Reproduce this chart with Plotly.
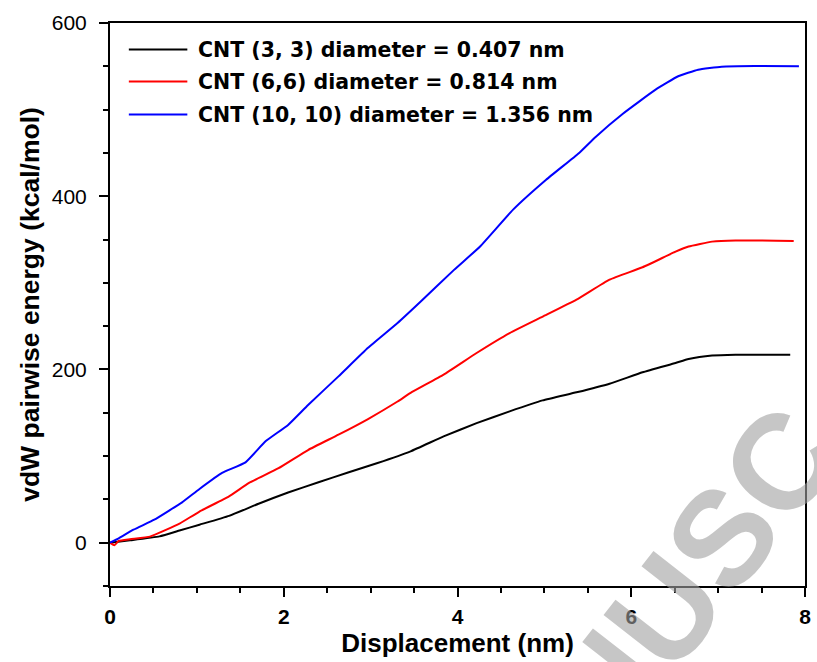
import plotly.graph_objects as go

# ---- data ----
x_33 = [0, 0.23, 0.57, 0.8, 1.03, 1.37, 1.71, 2.05, 2.4, 2.74, 3.08, 3.46, 3.84, 4.22,
        4.6, 4.98, 5.37, 5.75, 6.13, 6.51, 6.66, 6.93, 7.2, 7.83]
y_33 = [0, 2.7, 7.3, 14, 20.8, 31, 45, 58, 69.7, 81, 92, 105.5, 122.7, 138,
        151.6, 164.3, 173.6, 183.6, 196.7, 207.5, 212, 216, 217, 217]

x_66 = [0, 0.05, 0.1, 0.23, 0.46, 0.65, 0.8, 1.03, 1.37, 1.6, 1.94, 2.28, 2.63, 2.97,
        3.31, 3.46, 3.84, 4.22, 4.6, 4.98, 5.37, 5.75, 6.13, 6.51, 6.66, 6.93, 7.2, 7.87]
y_66 = [0, -3, 2, 4, 7, 15, 22, 36, 53.5, 69, 86, 107, 124.7, 142.8,
        163, 172.9, 194, 219, 242, 261, 280.6, 303.7, 318, 336, 342, 347.6, 349, 348.4]

x_1010 = [0, 0.1, 0.27, 0.51, 0.68, 0.83, 1.03, 1.29, 1.56, 1.79, 2.05, 2.28, 2.63, 2.97,
          3.31, 3.58, 3.96, 4.26, 4.64, 5.02, 5.4, 5.59, 5.9, 6.28, 6.54, 6.77, 7.04, 7.42, 7.93]
y_1010 = [0, 5, 15, 26.5, 37, 46.6, 62, 80.5, 92.8, 117, 136, 159, 192, 225,
          253.6, 278.7, 315, 342, 384.5, 419, 450, 468.5, 495, 523, 538.5, 546, 549.6, 550.4, 550]

series_names = ["CNT (3, 3) diameter = 0.407 nm",
                "CNT (6,6) diameter = 0.814 nm",
                "CNT (10, 10) diameter = 1.356 nm"]
series_colors = ["#000000", "#ff0000", "#0000ff"]
series_x = [x_33, x_66, x_1010]
series_y = [y_33, y_66, y_1010]

x_ticks = [0, 2, 4, 6, 8]
y_ticks = [0, 200, 400, 600]

# ---- layout geometry (pixels) ----
W, H = 817, 662
L, R, T, B = 110, 6, 23, 76
PW, PH = W - L - R, H - T - B


def px(xp):
    return (xp - L) / PW


def py(yp):
    return (H - B - yp) / PH


FONT = "Liberation Sans, Arial, sans-serif"
LEGFONT = "DejaVu Sans, sans-serif"

fig = go.Figure()
for name, col, xs, ys in zip(series_names, series_colors, series_x, series_y):
    fig.add_trace(go.Scatter(x=xs, y=ys, mode="lines", name=name,
                             line=dict(color=col, width=2, shape="spline", smoothing=0.4),
                             showlegend=False))

# custom legend (lines + bold labels)
legend_rows = [49.5, 81.5, 114.5]
shapes = []
annotations = []
for name, col, ry in zip(series_names, series_colors, legend_rows):
    shapes.append(dict(type="line", xref="paper", yref="paper",
                       x0=px(129), x1=px(188), y0=py(ry), y1=py(ry),
                       line=dict(color=col, width=2)))
    annotations.append(dict(xref="paper", yref="paper", x=px(197), y=py(ry + 0.5),
                            xanchor="left", yanchor="middle", showarrow=False,
                            text=name, font=dict(family=LEGFONT, size=20.5, color="black",
                                                 weight="bold")))

# watermark (only "...USC" of it falls inside the picture, as in the reference)
annotations.insert(0, dict(xref="paper", yref="paper", x=px(391), y=py(966),
                           xanchor="center", yanchor="middle", showarrow=False,
                           text="ACCEPTED MANUSC", textangle=-52,
                           font=dict(family=FONT, size=135, color="rgba(160,160,160,0.6)",
                                     weight="bold")))

fig.update_layout(
    width=W, height=H,
    margin=dict(l=L, r=R, t=T, b=B, pad=0),
    paper_bgcolor="white", plot_bgcolor="white",
    font=dict(family=FONT, color="black"),
    shapes=shapes, annotations=annotations,
    showlegend=False,
)

fig.update_xaxes(
    range=[0, 8], tickvals=x_ticks, ticktext=[str(v) for v in x_ticks],
    ticks="outside", ticklen=9, tickwidth=2, tickcolor="black",
    minor=dict(dtick=0.5, ticks="outside", ticklen=5, tickwidth=2, tickcolor="black"),
    showline=True, linewidth=2, linecolor="black", mirror=True,
    showgrid=False, zeroline=False,
    tickfont=dict(family=FONT, size=21, weight="bold"),
    ticklabelstandoff=2,
    title=dict(text="Displacement (nm)", font=dict(family=FONT, size=26, weight="bold"),
               standoff=3),
)
fig.update_yaxes(
    range=[-50, 600], tickvals=y_ticks, ticktext=[str(v) for v in y_ticks],
    ticks="outside", ticklen=9, tickwidth=2, tickcolor="black",
    minor=dict(dtick=50, ticks="outside", ticklen=5, tickwidth=2, tickcolor="black"),
    showline=True, linewidth=2, linecolor="black", mirror=True,
    showgrid=False, zeroline=False,
    tickfont=dict(family=FONT, size=21),
    ticklabelstandoff=8,
    title=dict(text="vdW pairwise energy (kcal/mol)",
               font=dict(family=FONT, size=26.5, weight="bold"), standoff=4),
)

fig.write_html("out.html")
